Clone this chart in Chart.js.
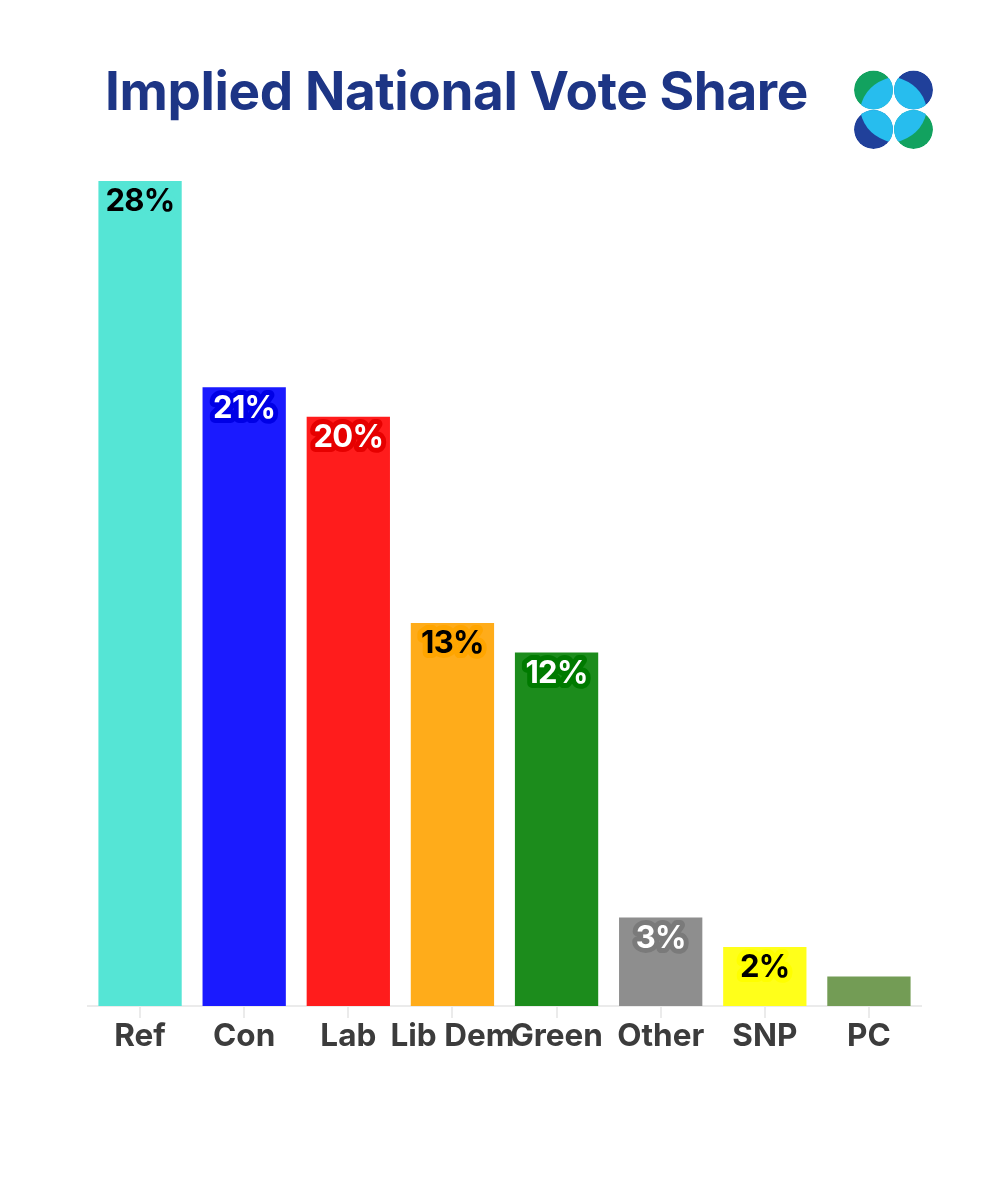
<!DOCTYPE html>
<html>
<head>
<meta charset="utf-8">
<title>Implied National Vote Share</title>
<script src="https://cdn.jsdelivr.net/npm/chart.js@4"></script>
<style>
  html, body { margin: 0; padding: 0; background: #fff; }
  #wrap { position: relative; width: 1004px; height: 1200px; overflow: hidden; }
  #titulo {
    position: absolute; left: 105px; top: 58px; margin: 0; white-space: nowrap;
    font: 700 53px/66px Inter, sans-serif; color: #1d3585; letter-spacing: -0.38px;
  }
  #logo { position: absolute; left: 850px; top: 66px; }
</style>
</head>
<body>
<div id="wrap">
  <canvas id="chartVotos" width="1004" height="1200"></canvas>
  <h1 id="titulo">Implied National Vote Share</h1>
  <svg id="logo" width="88" height="88" viewBox="0 0 88 88">
    <defs>
      <clipPath id="disco"><circle r="19.5"/></clipPath>
      <path id="lente" d="M18 -13 Q -8 -6 -13 17 L 30 30 L 30 -13 Z" fill="#27bdee"/>
    </defs>
    <g transform="translate(23.5 24)" clip-path="url(#disco)">
      <circle r="19.5" fill="#12a25f"/><use href="#lente"/>
    </g>
    <g transform="translate(63.5 24) scale(-1 1)" clip-path="url(#disco)">
      <circle r="19.5" fill="#20409a"/><use href="#lente"/>
    </g>
    <g transform="translate(23.5 63.5) scale(1 -1)" clip-path="url(#disco)">
      <circle r="19.5" fill="#20409a"/><use href="#lente"/>
    </g>
    <g transform="translate(63.5 63.5) scale(-1 -1)" clip-path="url(#disco)">
      <circle r="19.5" fill="#12a25f"/><use href="#lente"/>
    </g>
  </svg>
</div>
<script>
const partidos = ['Ref', 'Con', 'Lab', 'Lib Dem', 'Green', 'Other', 'SNP', 'PC'];
const votos = [28, 21, 20, 13, 12, 3, 2, 1];
const rotulos = ['28%', '21%', '20%', '13%', '12%', '3%', '2%', ''];
const coresBarras = ['#55e5d5', '#1a1aff', '#ff1c1c', '#ffac1a', '#1c8c1c', '#8e8e8e', '#ffff1a', '#739c55'];
const coresTexto = ['#000', '#fff', '#fff', '#000', '#fff', '#fff', '#000', '#000'];
const coresHalo = ['#55e5d5', '#0000e6', '#e60000', '#ffa500', '#007a00', '#7a7a7a', '#ffff00', '#739c55'];

// Rótulos de valor dentro das barras, com halo mais escuro
const rotulosBarras = {
    id: 'rotulosBarras',
    afterDatasetsDraw(chart) {
        const ctx = chart.ctx;
        ctx.save();
        ctx.font = '700 31px Inter, sans-serif';
        ctx.letterSpacing = '-0.7px';
        ctx.textAlign = 'center';
        ctx.textBaseline = 'middle';
        ctx.lineJoin = 'round';
        chart.getDatasetMeta(0).data.forEach((barra, i) => {
            ctx.lineWidth = 10;
            ctx.strokeStyle = coresHalo[i];
            ctx.strokeText(rotulos[i], barra.x, barra.y + 21);
            ctx.fillStyle = coresTexto[i];
            ctx.fillText(rotulos[i], barra.x, barra.y + 21);
        });
        ctx.restore();
    }
};

new Chart(document.getElementById('chartVotos').getContext('2d'), {
    type: 'bar',
    data: {
        labels: partidos,
        datasets: [{
            data: votos,
            backgroundColor: coresBarras,
            borderWidth: 0,
            categoryPercentage: 1,
            barPercentage: 0.8
        }]
    },
    options: {
        responsive: false,
        animation: false,
        layout: { padding: { left: 88, right: 83, top: 181, bottom: 0 } },
        plugins: { legend: { display: false }, tooltip: { enabled: false } },
        scales: {
            y: { display: false, min: 0, max: 28 },
            x: {
                afterFit(axis) { axis.height = 194; },
                border: { color: '#ebebeb', width: 2 },
                grid: { display: true, offset: false, drawOnChartArea: false, drawTicks: true, tickLength: 12, color: '#ebebeb', lineWidth: 2 },
                ticks: {
                    autoSkip: false, maxRotation: 0, minRotation: 0, padding: 1,
                    color: '#3c3c3c',
                    font: { family: 'Inter, sans-serif', size: 31.5, weight: '700', lineHeight: 1.1 }
                }
            }
        }
    },
    plugins: [rotulosBarras]
});
</script>
</body>
</html>
